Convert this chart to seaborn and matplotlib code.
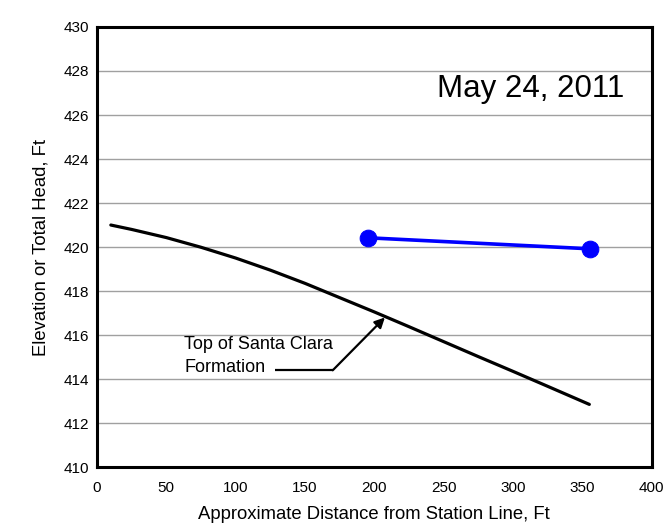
import matplotlib
matplotlib.use("Agg")
import matplotlib.pyplot as plt
import seaborn as sns
import pandas as pd

# Data
formation_x = [10, 25, 50, 75, 100, 125, 150, 175, 200, 225, 250, 275, 300, 325, 355]
formation_y = [421.0, 420.8, 420.43, 419.99, 419.5, 418.95, 418.35, 417.7, 417.05, 416.38,
               415.7, 415.02, 414.35, 413.67, 412.85]
head_x = [195.5, 355.5]
head_y = [420.42, 419.92]
x_ticks = [0, 50, 100, 150, 200, 250, 300, 350, 400]
y_ticks = [410, 412, 414, 416, 418, 420, 422, 424, 426, 428, 430]

sns.set_style("white")
plt.rcParams['font.family'] = ['Liberation Sans', 'DejaVu Sans']
plt.rcParams['text.color'] = 'black'
plt.rcParams['axes.labelcolor'] = 'black'
plt.rcParams['xtick.labelcolor'] = 'black'
plt.rcParams['ytick.labelcolor'] = 'black'

fig = plt.figure(figsize=(6.66, 5.29), dpi=100)
ax = fig.add_axes([0.1456, 0.117, 0.833, 0.832])

df_f = pd.DataFrame({"x": formation_x, "y": formation_y})
df_h = pd.DataFrame({"x": head_x, "y": head_y})

sns.lineplot(data=df_f, x="x", y="y", ax=ax, color="black", linewidth=2.3, sort=False)
sns.lineplot(data=df_h, x="x", y="y", ax=ax, color="#0000FF", linewidth=2.6,
             marker="o", markersize=12, markeredgecolor="#0000FF", sort=False)

ax.set_xlim(0, 400)
ax.set_ylim(410, 430)
ax.set_xticks(x_ticks)
ax.set_yticks(y_ticks)
ax.yaxis.grid(True, color="#a0a0a0", linewidth=1.0)
ax.xaxis.grid(False)
ax.set_axisbelow(True)
for s in ax.spines.values():
    s.set_color("black")
    s.set_linewidth(2.2)
ax.tick_params(axis="x", direction="in", length=4, width=0.8, color="#909090",
               labelsize=11, pad=10, labelcolor="black")
ax.tick_params(axis="y", direction="in", length=0, labelsize=11, pad=6, labelcolor="black")

ax.set_xlabel("Approximate Distance from Station Line, Ft", fontsize=13.3, labelpad=8, color="black")
ax.set_ylabel("Elevation or Total Head, Ft", fontsize=13.3, labelpad=10, color="black")

ax.text(245, 427.2, "May 24, 2011", fontsize=22.5, ha="left", va="center", color="black")

ax.text(63, 415.05, "Top of Santa Clara\nFormation", fontsize=13, ha="left", va="center",
        linespacing=1.4, color="black")
ax.plot([128.5, 170], [414.4, 414.4], color="black", linewidth=1.6, solid_capstyle="butt")
ax.annotate("", xy=(207.6, 416.8), xytext=(170, 414.4),
            arrowprops=dict(arrowstyle="-|>", color="black", lw=1.6, mutation_scale=15,
                            shrinkA=0, shrinkB=0))

fig.savefig("out.png", dpi=100)
